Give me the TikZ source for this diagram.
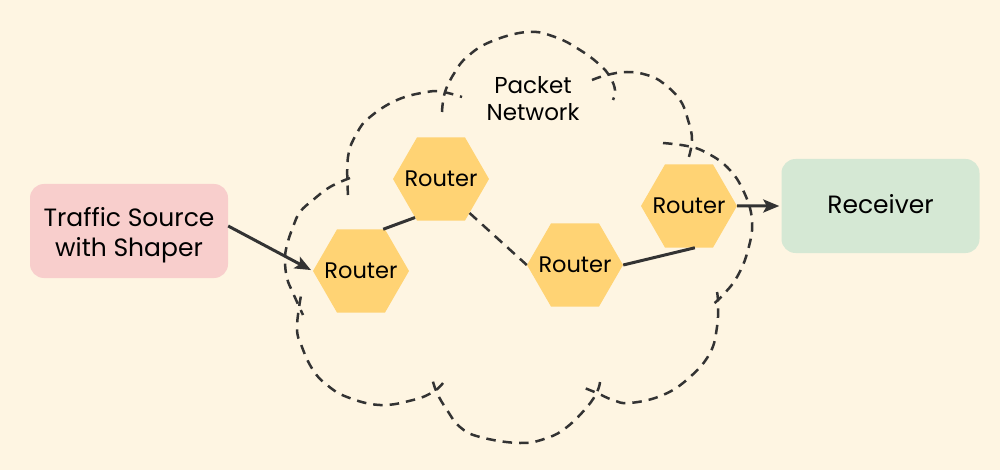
\documentclass[tikz,border=0pt]{standalone}
\usepackage{fontspec}
\setmainfont{Poppins}
\usetikzlibrary{shapes.geometric,arrows.meta,calc}
\definecolor{bgc}{HTML}{FEF5E2}
\definecolor{hexc}{HTML}{FFD374}
\definecolor{srcc}{HTML}{F8CECC}
\definecolor{rcvc}{HTML}{D5E8D4}
\definecolor{linec}{HTML}{333333}
\tikzset{
  hex/.style={regular polygon, regular polygon sides=6, minimum size=96pt, inner sep=0pt,
    fill=hexc, draw=none, font=\fontsize{22.5}{24}\selectfont},
  box/.style={rounded corners=14pt, minimum width=198pt, minimum height=94pt, inner sep=0pt},
  boxtext/.style={align=center, font=\fontsize{25}{30}\selectfont, inner sep=0pt},
  cloudline/.style={draw=linec, line width=2.5pt, dash pattern=on 9.5pt off 7pt},
  conn/.style={draw=linec, line width=3pt},
  arr/.style={conn, -{Stealth[length=16pt,width=13pt,inset=3.5pt]}},
}
\begin{document}
\begin{tikzpicture}[x=1pt,y=-1pt]
\fill[bgc] (0,0) rectangle (1000,470);
\useasboundingbox (0,0) rectangle (1000,470);
% cloud lobes
\draw[cloudline] plot[smooth,tension=0.7] coordinates {(348,195) (348,157) (357,133) (370,117) (397,100) (427,92) (443,92) (462,97)};
\draw[cloudline] plot[smooth,tension=0.7] coordinates {(442,112) (445,92) (455,72) (467,57) (490,42) (527,32) (555,37) (580,50) (600,65) (610,77) (615,90) (613,100)};
\draw[cloudline] plot[smooth,tension=0.7] coordinates {(592,80) (607,75) (627,72) (647,75) (663,83) (680,100) (688,120) (692,140) (688,160)};
\draw[cloudline] plot[smooth,tension=0.7] coordinates {(663,143) (687,146) (705,152) (727,167) (743,190) (752,220) (748,250) (737,277) (722,296) (712,305)};
\draw[cloudline] plot[smooth,tension=0.7] coordinates {(717,292) (718,303) (717,327) (710,353) (690,377) (663,395) (630,403) (613,400) (597,393) (582,387)};
\draw[cloudline] plot[smooth,tension=0.7] coordinates {(600,382) (597,392) (587,407) (567,427) (547,438) (520,443) (480,437) (460,427) (447,410) (437,393) (432,378)};
\draw[cloudline] plot[smooth,tension=0.7] coordinates {(443,383) (433,392) (413,400) (380,405) (347,397) (327,385) (313,370) (302,347) (297,327) (302,290)};
\draw[cloudline] plot[smooth,tension=0.7] coordinates {(350,178) (330,187) (313,200) (300,212) (293,227) (287,245) (285,260) (287,278) (293,293) (303,315)};
\node[font=\fontsize{23}{27}\selectfont, align=center] (net) at (533,99) {Packet\\Network};
% nodes
\node[box, fill=srcc, label={[boxtext, yshift=-4pt]center:Traffic Source\\with Shaper}] (src) at (129,231) {};
\node[box, fill=rcvc, label={[boxtext, yshift=2pt]center:Receiver}] (rcv) at (880.5,206) {};
\node[hex] (h1) at (361,271) {\makebox[0pt]{Router}};
\node[hex] (h2) at (441,179) {\makebox[0pt]{Router}};
\node[hex] (h3) at (575,265) {\makebox[0pt]{Router}};
\node[hex] (h4) at (689,206) {\makebox[0pt]{Router}};
% connectors
\draw[arr, shorten >=2pt] ($(src.east)+(0,-5)$) -- (h1.west);
\draw[conn] (h1.62) -- (h2.236);
\draw[conn, dash pattern=on 10pt off 7pt, line width=2.5pt] (h2.-50) -- (h3.west);
\draw[conn] (h3.east) -- (h4.-82);
\draw[arr, shorten >=2pt] (h4.east) -- (rcv.west);
\end{tikzpicture}
\end{document}
